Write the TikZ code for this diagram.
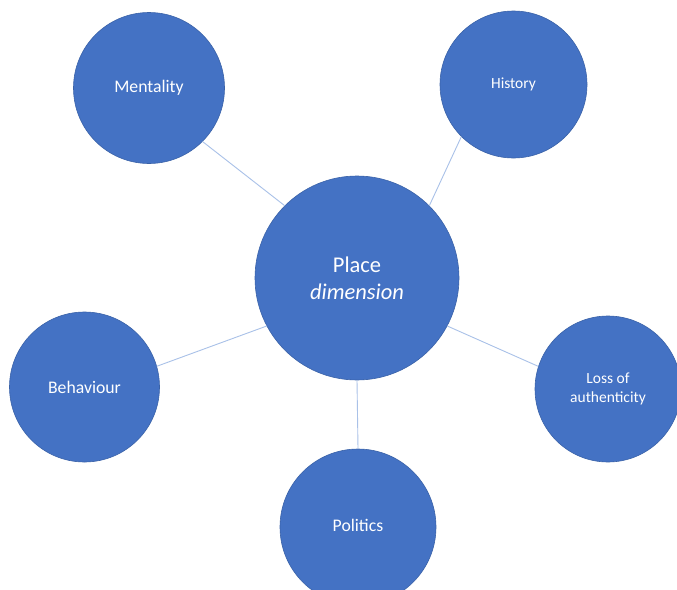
\documentclass[tikz,border=0pt]{standalone}
\usepackage{fontspec}
\setmainfont{Carlito}
\definecolor{bubble}{HTML}{4472C4}
\definecolor{bubbleedge}{HTML}{3A62A8}
\definecolor{linkc}{HTML}{A9C1E8}
\begin{document}
\begin{tikzpicture}[x=1pt,y=-1pt,
  bub/.style={circle,fill=bubble,draw=bubbleedge,line width=0.6pt,inner sep=0pt,text=white,align=center},
  small/.style={font=\fontsize{17.7}{21}\selectfont},
  smaller/.style={font=\fontsize{15.5}{19}\selectfont},
  link/.style={draw=linkc,line width=0.9pt}]
\useasboundingbox (0,0) rectangle (677,589);
\clip (0,0) rectangle (677,589);
\fill[white] (0,0) rectangle (677,589);
\node[bub,minimum size=204pt,font=\fontsize{22.5}{27}\selectfont] (place) at (357,278) {Place\\\textit{dimension}};
\node[bub,minimum size=151pt,small] (ment) at (149,88) {\raisebox{-2pt}{Mentality}};
\node[bub,minimum size=147pt,smaller] (hist) at (513.5,84.5) {\raisebox{-1.5pt}{History}};
\node[bub,minimum size=150pt,small] (beh) at (84.5,387) {Behaviour};
\node[bub,minimum size=146pt,smaller] (loss) at (608,389) {Loss of\\authenticity};
\node[bub,minimum size=156pt,small] (pol) at (358,527) {\raisebox{3.5pt}{Politics}};
\draw[link] (ment.315) -- (place.135);
\draw[link] (hist.225) -- (place.45);
\draw[link] (beh.16) -- (place.208);
\draw[link] (place.332) -- (loss.162);
\draw[link] (place.south) -- (pol.north);
\end{tikzpicture}
\end{document}
